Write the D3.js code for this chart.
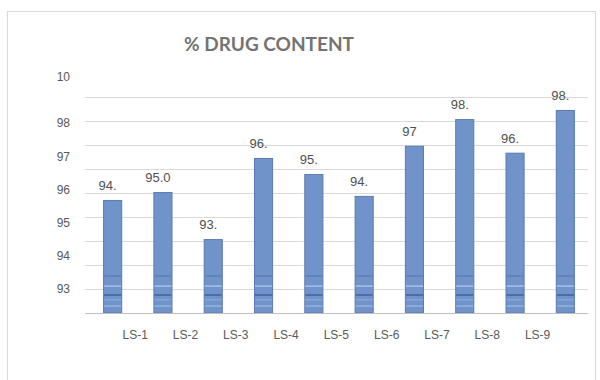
<!DOCTYPE html>
<html>
<head>
<meta charset="utf-8">
<script src="https://cdn.jsdelivr.net/npm/d3@7/dist/d3.min.js"></script>
<style>
  html, body { margin: 0; padding: 0; background: #ffffff; }
  svg { display: block; }
</style>
</head>
<body>
<svg id="chart" width="600" height="380"></svg>
<script>
// ---- data ----
const title = "% DRUG CONTENT";
const barIds = ["b1","b2","b3","b4","b5","b6","b7","b8","b9","b10"];
const values = [94.71, 95.04, 93.08, 96.46, 95.79, 94.88, 96.97, 98.08, 96.68, 98.46];
const valueLabels = ["94.", "95.0", "93.", "96.", "95.", "94.", "97", "98.", "96.", "98."];
const categories = ["LS-1","LS-2","LS-3","LS-4","LS-5","LS-6","LS-7","LS-8","LS-9"];
const gridValues = [91, 92, 93, 94, 95, 96, 97, 98, 99];
const tickValues = [93, 94, 95, 96, 97, 98, 99.4];
const tickLabels = ["93", "94", "95", "96", "97", "98", "10"];

// ---- layout ----
const svg = d3.select("#chart");
const plotLeft = 85, plotRight = 588, plotBottom = 313, plotTop = 97;

// outer border
svg.append("rect")
  .attr("x", 7.5).attr("y", 11.5).attr("width", 588).attr("height", 390)
  .attr("fill", "#ffffff").attr("stroke", "#d9d9d9").attr("stroke-width", 1);

const y = d3.scaleLinear().domain([90, 99]).range([plotBottom, plotTop]);
const x = d3.scaleBand().domain(barIds).range([88, 590]).paddingInner(0.62).paddingOuter(0.3);

// gridlines
svg.append("g").selectAll("line").data(gridValues).join("line")
  .attr("x1", plotLeft).attr("x2", plotRight)
  .attr("y1", d => Math.round(y(d)) + 0.5).attr("y2", d => Math.round(y(d)) + 0.5)
  .attr("stroke", "#d9d9d9").attr("stroke-width", 1);

// tick labels (separate label axis as in the reference)
const yLab = d3.scaleLinear().domain([93, 98]).range([289, 123]);
const yAxis = d3.axisLeft(yLab).tickValues(tickValues)
  .tickFormat((d, i) => tickLabels[i]).tickSize(0).tickPadding(0);
const gy = svg.append("g").attr("transform", "translate(70,0)").call(yAxis);
gy.select(".domain").remove();
gy.selectAll("text").attr("font-family", "Liberation Sans, Arial, sans-serif")
  .attr("font-size", 12).attr("fill", "#595959");

// bars
const bars = svg.append("g");
bars.selectAll("rect").data(values).join("rect")
  .attr("x", (d, i) => x(barIds[i]) + 0.5)
  .attr("y", d => y(d) + 0.5)
  .attr("width", x.bandwidth() - 1)
  .attr("height", d => plotBottom - y(d) - 0.5)
  .attr("fill", "#7093ca").attr("stroke", "#5a7bb3").attr("stroke-width", 1);

// stripes near the bottom of each bar
const stripes = [
  {v: 91.54, c: "#5675ab", w: 1},
  {v: 91.12, c: "#a9c3ea", w: 1.5},
  {v: 90.75, c: "#41619a", w: 1.5},
  {v: 90.55, c: "#8fb0e0", w: 1},
  {v: 90.29, c: "#a9c3ea", w: 1}
];
barIds.forEach((id, i) => {
  bars.append("g").selectAll("line").data(stripes).join("line")
    .attr("x1", x(id) + 1).attr("x2", x(id) + x.bandwidth() - 1)
    .attr("y1", s => y(s.v)).attr("y2", s => y(s.v))
    .attr("stroke", s => s.c).attr("stroke-width", s => s.w);
});

// baseline
svg.append("line")
  .attr("x1", plotLeft).attr("x2", plotRight)
  .attr("y1", plotBottom + 0.5).attr("y2", plotBottom + 0.5)
  .attr("stroke", "#bfbfbf").attr("stroke-width", 1);

// value labels
svg.append("g").selectAll("text").data(values).join("text")
  .attr("x", (d, i) => x(barIds[i]) + x.bandwidth() / 2 - 5)
  .attr("y", d => y(d) - 10)
  .attr("text-anchor", "middle")
  .attr("font-family", "Liberation Sans Narrow, Arial Narrow, sans-serif")
  .attr("font-size", 13).attr("fill", "#505050")
  .text((d, i) => valueLabels[i]);

// category labels (sit between bars in the reference)
const xLab = d3.scalePoint().domain(categories)
  .range([x(barIds[0]) + x.bandwidth() / 2 + 22, x(barIds[8]) + x.bandwidth() / 2 + 22]);
const xAxis = d3.axisBottom(xLab).tickSize(0).tickPadding(0);
const gx = svg.append("g").attr("transform", "translate(0,330)").call(xAxis);
gx.select(".domain").remove();
gx.selectAll("text").attr("font-family", "Liberation Sans, Arial, sans-serif")
  .attr("font-size", 12).attr("fill", "#595959");

// title
svg.append("text")
  .attr("x", 269).attr("y", 51)
  .attr("text-anchor", "middle")
  .attr("font-family", "Lato, Open Sans, sans-serif")
  .attr("font-weight", "bold")
  .attr("font-size", 18).attr("fill", "#737373")
  .attr("textLength", 170).attr("lengthAdjust", "spacingAndGlyphs")
  .text(title);
</script>
</body>
</html>
